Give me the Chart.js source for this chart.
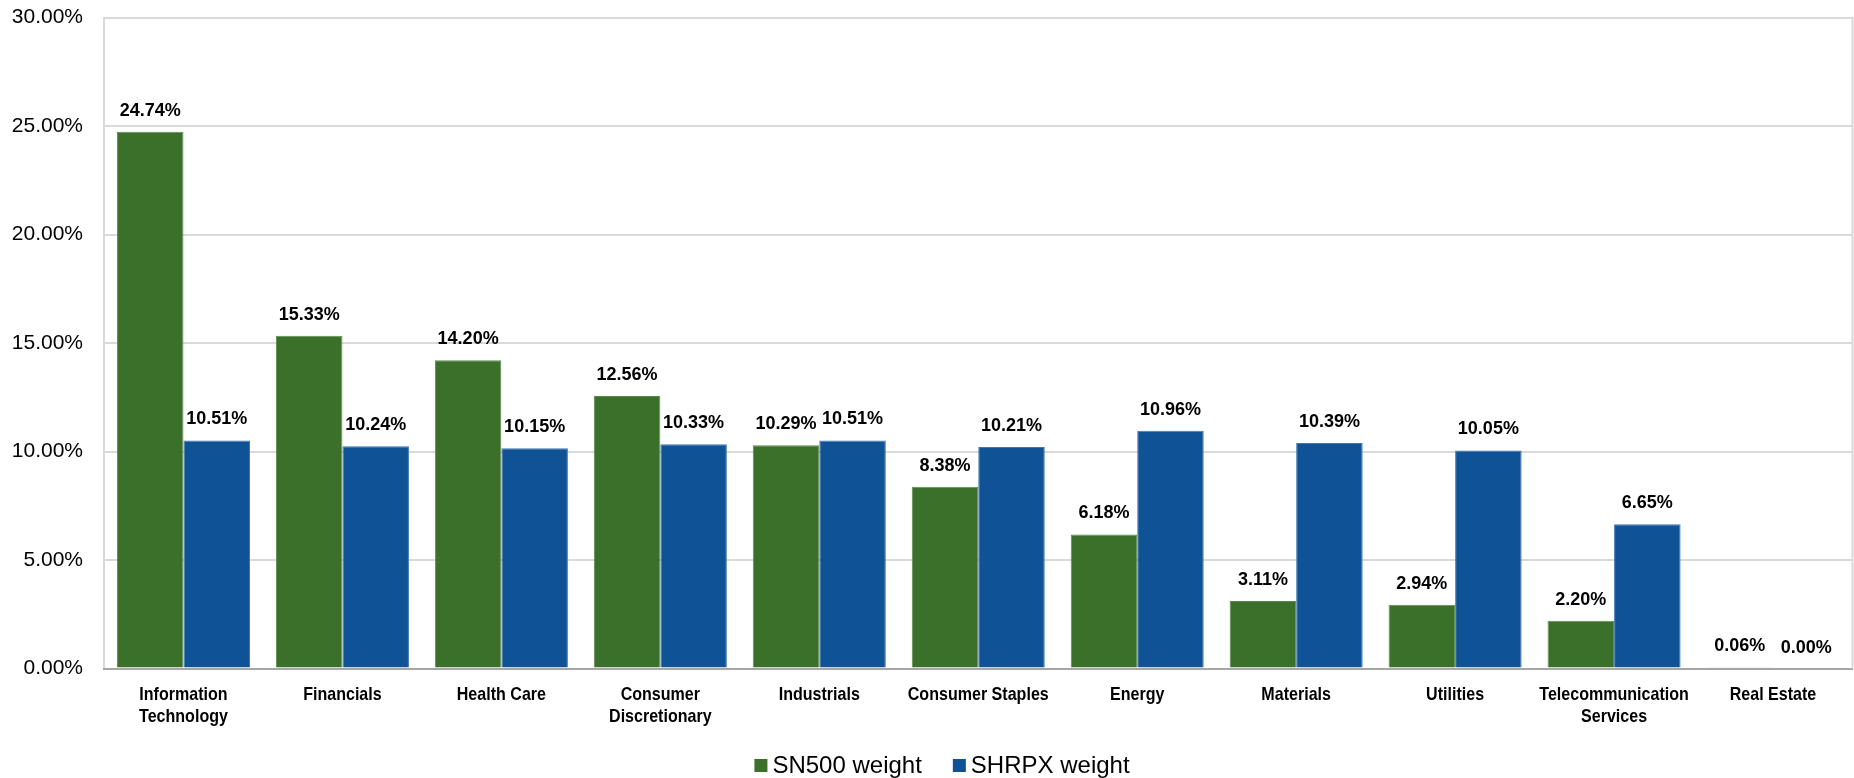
<!DOCTYPE html>
<html><head><meta charset="utf-8">
<script src="https://cdn.jsdelivr.net/npm/chart.js@4"></script>
<style>html,body{margin:0;padding:0;background:#fff}canvas{display:block}</style>
</head><body>
<canvas id="c" width="1854" height="778"></canvas>
<script>
const categories = [
  ["Information", "Technology"], "Financials", "Health Care", ["Consumer", "Discretionary"],
  "Industrials", "Consumer Staples", "Energy", "Materials", "Utilities",
  ["Telecommunication", "Services"], "Real Estate"
];
const sn500Weights = [24.74, 15.33, 14.20, 12.56, 10.29, 8.38, 6.18, 3.11, 2.94, 2.20, 0.06];
const shrpxWeights = [10.51, 10.24, 10.15, 10.33, 10.51, 10.21, 10.96, 10.39, 10.05, 6.65, 0.00];
const seriesNames = ["SN500 weight", "SHRPX weight"];
const seriesColors = ["#3A7029", "#0F5396"];
const yMin = 0, yMax = 30, yStep = 5;

const pct = v => Number(v).toFixed(2) + "%";
const FONT = '"Liberation Sans", Arial, sans-serif';

const valueLabels = {
  id: "valueLabels",
  afterDatasetsDraw(chart) {
    const ctx = chart.ctx;
    ctx.save();
    ctx.font = "bold 18px " + FONT;
    ctx.fillStyle = "#000";
    ctx.textAlign = "center";
    ctx.textBaseline = "alphabetic";
    chart.data.datasets.forEach((ds, i) => {
      chart.getDatasetMeta(i).data.forEach((bar, j) => {
        ctx.fillText(pct(ds.data[j]), bar.x, bar.y - 16);
      });
    });
    ctx.restore();
  }
};

// Category labels drawn in a condensed bold face (narrow font is not installed)
const categoryLabels = {
  id: "categoryLabels",
  afterDraw(chart) {
    const ctx = chart.ctx;
    const sx = chart.scales.x;
    ctx.save();
    ctx.font = "bold 19px " + FONT;
    ctx.fillStyle = "#000";
    ctx.textAlign = "center";
    ctx.textBaseline = "alphabetic";
    chart.data.labels.forEach((lab, i) => {
      const lines = Array.isArray(lab) ? lab : [lab];
      const x = sx.getPixelForTick(i);
      lines.forEach((t, k) => {
        ctx.save();
        ctx.translate(x, sx.top + 31.5 + k * 22);
        ctx.scale(0.845, 1);
        ctx.fillText(t, 0, 0);
        ctx.restore();
      });
    });
    ctx.restore();
  }
};

const plotFrame = {
  id: "plotFrame",
  beforeDatasetsDraw(chart) {
    const { ctx, chartArea: a } = chart;
    ctx.save();
    ctx.strokeStyle = "#D9D9D9";
    ctx.lineWidth = 2;
    ctx.beginPath();
    ctx.moveTo(a.right, a.top - 1);
    ctx.lineTo(a.right, a.bottom);
    ctx.stroke();
    ctx.restore();
  }
};

const customLegend = {
  id: "customLegend",
  afterDraw(chart) {
    const ctx = chart.ctx;
    ctx.save();
    ctx.font = "24px " + FONT;
    const box = 13, gap = 5, itemGap = 31;
    const items = chart.data.datasets.map(ds => ({ text: ds.label, color: ds.backgroundColor, w: ctx.measureText(ds.label).width }));
    const total = items.reduce((s, it) => s + box + gap + it.w, 0) + itemGap * (items.length - 1);
    let x = chart.width / 2 + 15 - total / 2;
    const baseline = 773;
    items.forEach(it => {
      ctx.fillStyle = it.color;
      ctx.fillRect(x, 759, box, box);
      ctx.fillStyle = "#000";
      ctx.textAlign = "left";
      ctx.textBaseline = "alphabetic";
      ctx.fillText(it.text, x + box + gap, baseline);
      x += box + gap + it.w + itemGap;
    });
    ctx.restore();
  }
};

new Chart(document.getElementById("c"), {
  type: "bar",
  data: {
    labels: categories,
    datasets: [
      { label: seriesNames[0], data: sn500Weights, backgroundColor: seriesColors[0], borderColor: "#5C8A4C", borderWidth: 1, categoryPercentage: 0.837, barPercentage: 1.0 },
      { label: seriesNames[1], data: shrpxWeights, backgroundColor: seriesColors[1], borderColor: "#3F76AE", borderWidth: 1, categoryPercentage: 0.837, barPercentage: 1.0 }
    ]
  },
  options: {
    responsive: false,
    animation: false,
    devicePixelRatio: 1,
    layout: { padding: { top: 17.5, right: 1.5, left: 0, bottom: 39.5 } },
    plugins: { legend: { display: false }, tooltip: { enabled: false } },
    scales: {
      y: {
        min: yMin, max: yMax,
        ticks: { stepSize: yStep, callback: v => pct(v), color: "#000", font: { family: FONT, size: 21 }, padding: 21 },
        grid: { color: "#D9D9D9", lineWidth: 2, drawTicks: false },
        border: { display: true, color: "#D9D9D9", width: 2 },
        afterFit: s => { s.width = 104; s.paddingTop = 0; s.paddingBottom = 0; }
      },
      x: {
        grid: { display: false, drawTicks: false },
        border: { display: true, color: "#A6A6A6", width: 2 },
        ticks: { display: false },
        afterFit: s => { s.height = 70; }
      }
    }
  },
  plugins: [plotFrame, valueLabels, categoryLabels, customLegend]
});
</script>
</body></html>
